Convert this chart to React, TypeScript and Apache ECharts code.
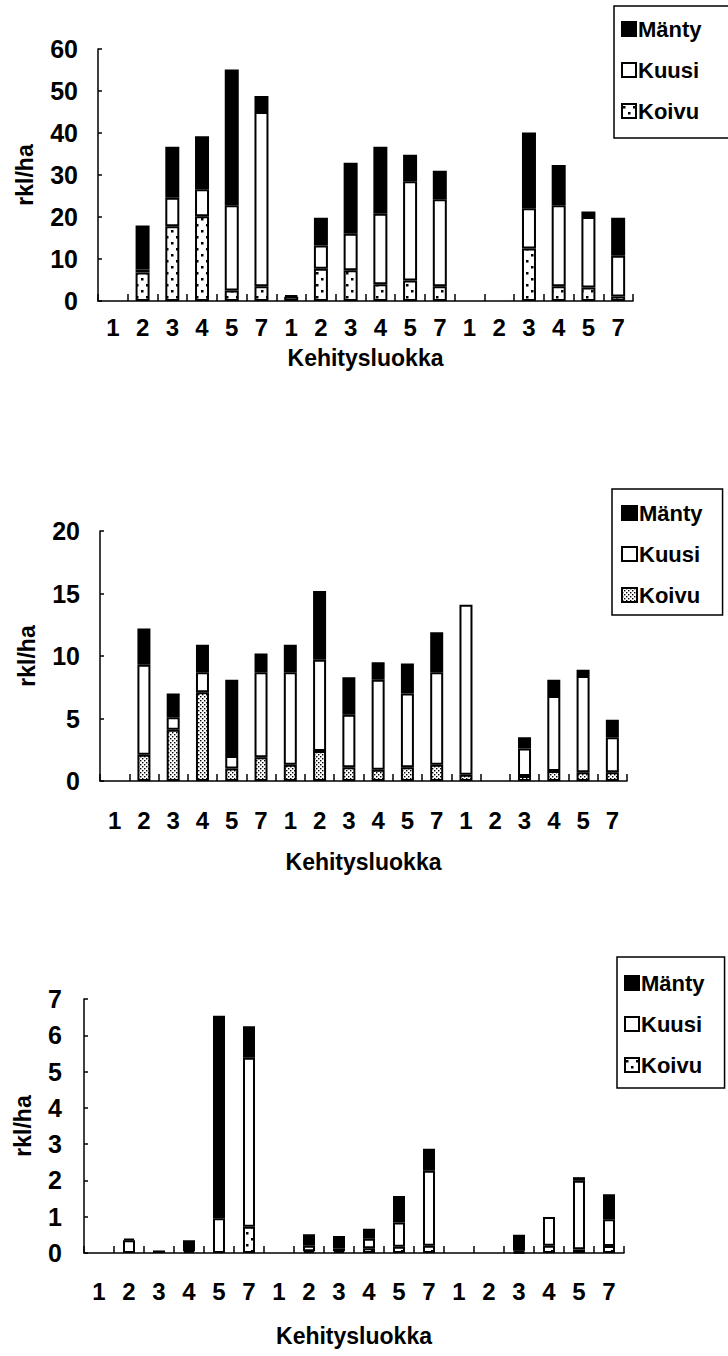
import React, { useEffect, useRef } from "react";
import * as echarts from "echarts";

// Development classes along the x axis (three site groups of six classes)
const classes = ["1", "2", "3", "4", "5", "7", "1", "2", "3", "4", "5", "7", "1", "2", "3", "4", "5", "7"];
const speciesOrder = ["Mänty", "Kuusi", "Koivu"];

// Panel 1 (rkl/ha)
const koivu1 = [0, 6.8, 17.8, 20.2, 2.5, 3.5, 0, 7.7, 7.3, 4.0, 4.9, 3.5, 0, 0, 12.5, 3.5, 3.2, 1.1];
const kuusi1 = [0, 0.7, 6.8, 6.4, 20.3, 41.5, 1.0, 5.5, 8.7, 16.8, 23.6, 20.7, 0, 0, 9.6, 19.3, 16.8, 9.7];
const manty1 = [0, 10.5, 12.1, 12.6, 32.3, 3.8, 0.4, 6.6, 16.9, 15.9, 6.3, 6.8, 0, 0, 18.0, 9.6, 1.3, 9.0];

// Panel 2 (rkl/ha)
const koivu2 = [0, 2.1, 4.1, 7.1, 1.0, 1.9, 1.3, 2.4, 1.1, 0.9, 1.1, 1.3, 0.5, 0, 0.4, 0.8, 0.7, 0.7];
const kuusi2 = [0, 7.2, 1.0, 1.6, 1.0, 6.8, 7.4, 7.3, 4.2, 7.2, 5.9, 7.4, 13.6, 0, 2.2, 6.0, 7.7, 2.8];
const manty2 = [0, 2.9, 1.9, 2.2, 6.1, 1.5, 2.2, 5.5, 3.0, 1.4, 2.4, 3.2, 0, 0, 0.9, 1.3, 0.5, 1.4];

// Panel 3 (rkl/ha)
const koivu3 = [0, 0, 0, 0, 0, 0.72, 0, 0.05, 0.05, 0.13, 0.17, 0.2, 0, 0, 0.02, 0.2, 0.1, 0.19];
const kuusi3 = [0, 0.35, 0, 0.05, 0.96, 4.66, 0, 0.15, 0.08, 0.26, 0.67, 2.07, 0, 0, 0.04, 0.79, 1.89, 0.74];
const manty3 = [0, 0.05, 0.07, 0.3, 5.58, 0.87, 0, 0.32, 0.34, 0.28, 0.73, 0.6, 0, 0, 0.44, 0, 0.1, 0.69];

// Value-axis scales
const yMax1 = 60, yStep1 = 10;
const yMax2 = 20, yStep2 = 5;
const yMax3 = 7, yStep3 = 1;

const FONT = '"Liberation Sans", Arial, sans-serif';

function dotTile(w: number, h: number, dots: number[][], dot: number) {
  const c = document.createElement("canvas");
  c.width = w;
  c.height = h;
  const g = c.getContext("2d")!;
  g.fillStyle = "#fff";
  g.fillRect(0, 0, w, h);
  g.fillStyle = "#000";
  dots.forEach(([x, y]) => g.fillRect(x, y, dot, dot));
  return { image: c, repeat: "repeat", imageWidth: w, imageHeight: h };
}

type PanelCfg = {
  koivu: number[];
  kuusi: number[];
  manty: number[];
  yMax: number;
  yStep: number;
  grid: { left: number; top: number; width: number; height: number };
  legend: { left: number; top: number; padding: number[]; iconW: number };
  labelMargin: number;
  xNameGap: number;
  yNameGap: number;
  yLabelMargin: number;
  barWidth: number;
  pattern: any;
};

function buildOption(cfg: PanelCfg) {
  const toData = (arr: number[]) => arr.map((v) => (v === 0 ? "-" : v));
  const border = { borderColor: "#000", borderWidth: 2 };
  const label = { fontFamily: FONT, fontSize: 25, fontWeight: "bold", color: "#000" };
  return {
    animation: false,
    backgroundColor: "#fff",
    textStyle: { fontFamily: FONT },
    legend: {
      data: speciesOrder,
      orient: "vertical",
      left: cfg.legend.left,
      top: cfg.legend.top,
      padding: cfg.legend.padding,
      itemGap: 19,
      itemWidth: cfg.legend.iconW,
      itemHeight: 14,
      icon: "rect",
      borderColor: "#000",
      borderWidth: 1.5,
      selectedMode: false,
      textStyle: { fontFamily: FONT, fontSize: 22, fontWeight: "bold", color: "#000", padding: [0, 0, 0, -3] },
    },
    grid: { ...cfg.grid, containLabel: false },
    xAxis: {
      type: "category",
      data: classes,
      name: "Kehitysluokka",
      nameLocation: "middle",
      nameGap: cfg.xNameGap,
      nameTextStyle: { fontFamily: FONT, fontSize: 23, fontWeight: "bold", color: "#000" },
      axisLine: { lineStyle: { color: "#000", width: 1.5 } },
      axisTick: { show: true, inside: true, length: 7, interval: 0, lineStyle: { color: "#000", width: 1.5 } },
      axisLabel: { ...label, fontSize: 24, interval: 0, margin: cfg.labelMargin },
    },
    yAxis: {
      type: "value",
      min: 0,
      max: cfg.yMax,
      interval: cfg.yStep,
      name: "rkl/ha",
      nameLocation: "middle",
      nameRotate: 90,
      nameGap: cfg.yNameGap,
      nameTextStyle: { fontFamily: FONT, fontSize: 23, fontWeight: "bold", color: "#000" },
      splitLine: { show: false },
      axisLine: { show: true, lineStyle: { color: "#000", width: 1.5 } },
      axisTick: { show: true, inside: true, length: 4, lineStyle: { color: "#000", width: 1.5 } },
      axisLabel: { ...label, margin: cfg.yLabelMargin },
    },
    series: [
      {
        name: "Koivu",
        type: "bar",
        stack: "total",
        barWidth: cfg.barWidth,
        data: toData(cfg.koivu),
        itemStyle: { color: cfg.pattern, ...border },
      },
      {
        name: "Kuusi",
        type: "bar",
        stack: "total",
        barWidth: cfg.barWidth,
        data: toData(cfg.kuusi),
        itemStyle: { color: "#fff", ...border },
      },
      {
        name: "Mänty",
        type: "bar",
        stack: "total",
        barWidth: cfg.barWidth,
        data: toData(cfg.manty),
        itemStyle: { color: "#000", ...border },
      },
    ],
  };
}

function Panel({ top, height, cfg }: { top: number; height: number; cfg: () => PanelCfg }) {
  const ref = useRef<HTMLDivElement>(null);
  useEffect(() => {
    if (!ref.current) return;
    const chart = echarts.init(ref.current, undefined, { renderer: "svg" });
    chart.setOption(buildOption(cfg()) as any);
    return () => chart.dispose();
  }, []);
  return <div ref={ref} style={{ position: "absolute", left: 0, top, width: 728, height }} />;
}

// Birch fill: sparse staggered dots (panels 1 and 3), fine halftone (panel 2)
const sparseDots = () => dotTile(10, 12, [[1, 2], [6, 8]], 2.5);
const denseDots = () => dotTile(4, 4, [[0, 0], [2, 2]], 1.4);

export default function App() {
  return (
    <div style={{ position: "absolute", left: 0, top: 0, width: 728, height: 1356, background: "#fff", overflow: "hidden" }}>
      <Panel
        top={0}
        height={440}
        cfg={() => ({
          koivu: koivu1,
          kuusi: kuusi1,
          manty: manty1,
          yMax: yMax1,
          yStep: yStep1,
          grid: { left: 98, top: 49, width: 535, height: 252 },
          legend: { left: 614, top: 6, padding: [12, 40, 16, 7], iconW: 14 },
          labelMargin: 14,
          xNameGap: 45,
          yNameGap: 62,
          yLabelMargin: 20,
          barWidth: 14,
          pattern: sparseDots(),
        })}
      />
      <Panel
        top={440}
        height={460}
        cfg={() => ({
          koivu: koivu2,
          kuusi: kuusi2,
          manty: manty2,
          yMax: yMax2,
          yStep: yStep2,
          grid: { left: 100, top: 91, width: 527, height: 250 },
          legend: { left: 612, top: 49, padding: [13, 20, 9, 9], iconW: 15 },
          labelMargin: 27,
          xNameGap: 69,
          yNameGap: 62,
          yLabelMargin: 20,
          barWidth: 13,
          pattern: denseDots(),
        })}
      />
      <Panel
        top={900}
        height={456}
        cfg={() => ({
          koivu: koivu3,
          kuusi: kuusi3,
          manty: manty3,
          yMax: yMax3,
          yStep: yStep3,
          grid: { left: 84, top: 99, width: 540, height: 254 },
          legend: { left: 617, top: 57, padding: [15, 20, 12, 7], iconW: 14 },
          labelMargin: 26,
          xNameGap: 71,
          yNameGap: 50,
          yLabelMargin: 22,
          barWidth: 12,
          pattern: sparseDots(),
        })}
      />
    </div>
  );
}
